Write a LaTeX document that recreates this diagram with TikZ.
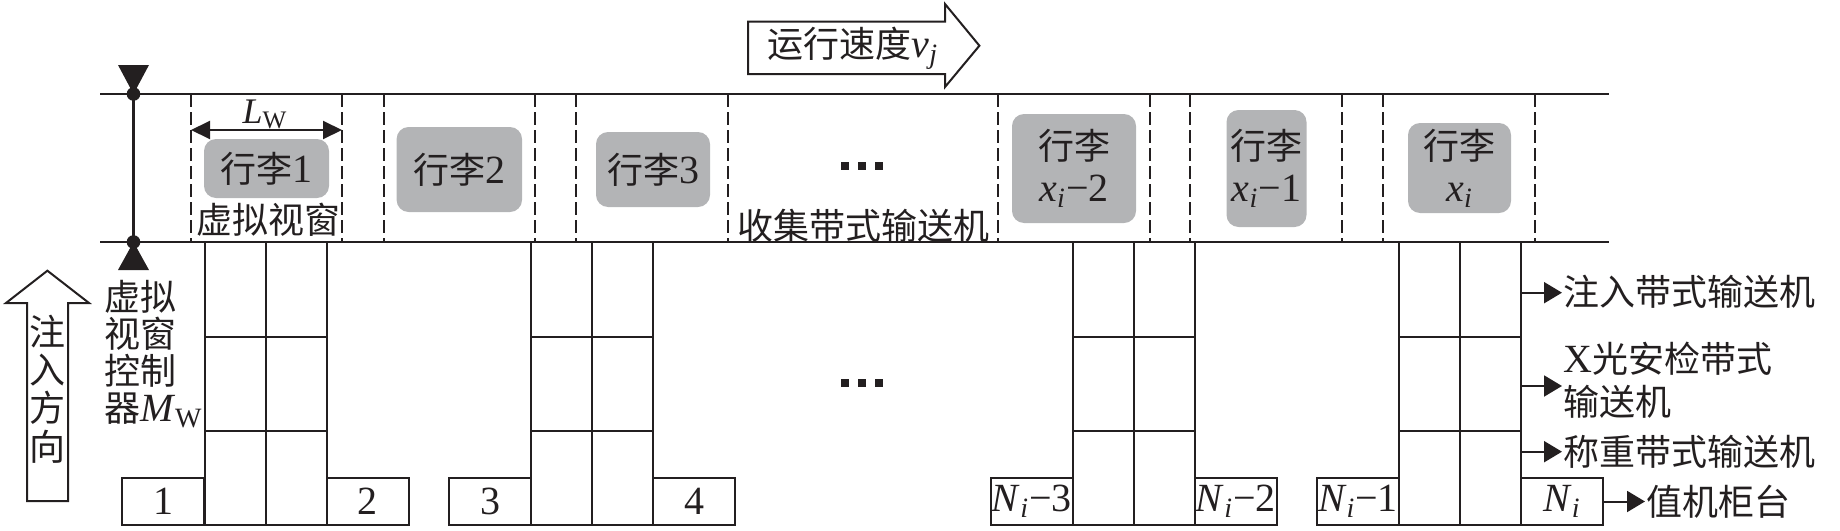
\documentclass[tikz,border=0pt]{standalone}
\usepackage{fontspec}
\setmainfont{Liberation Serif}
\newfontfamily\zhfont{Noto Sans CJK SC}[Scale=0.9]
\usetikzlibrary{arrows.meta}

\definecolor{baggray}{HTML}{B3B4B6}
\definecolor{ink}{HTML}{231F20}
\newcommand{\zh}[1]{{\zhfont #1}}

\begin{document}
\begin{tikzpicture}[x=0.5pt, y=-0.5pt, ink,
  font=\fontsize{20}{21}\selectfont,
  belt/.style={line width=1.2pt},
  window/.style={line width=1pt, dash pattern=on 6.5pt off 2.5pt},
  cell/.style={line width=1pt},
  bag/.style={fill=baggray, rounded corners=6pt, align=center, inner sep=0pt},
  numbox/.style={draw, line width=1pt, minimum width=41pt, minimum height=23.5pt, inner sep=0pt},
  feed/.style={line width=1pt, -{Triangle[length=9pt,width=10.5pt]}},
  side/.style={anchor=west, inner sep=0.5pt}]

\useasboundingbox (0,0) rectangle (1840,530);

% belt and virtual windows
\draw[belt] (100,94) -- (1609,94) (100,242) -- (1609,242);
\foreach \x in {191,342,383.5,535,576,728,998,1150,1190,1342,1383,1535}
  \draw[window] (\x,94) -- (\x,242);

% controller
\coordinate (ctop) at (133.5,94);
\coordinate (cbot) at (133.5,242);
\draw[belt] (ctop) -- (cbot);
\fill (ctop) circle (3.4pt) (cbot) circle (3.4pt);
\fill (118,65) -- (149,65) -- (ctop) -- cycle;
\fill (118,270) -- (149,270) -- (cbot) -- cycle;

\draw
(266.5,168.5) node[bag, minimum width=62.5pt, minimum height=29.5pt] (bag1) {\zh{行李}1}
(459.3,169.5) node[bag, minimum width=62.7pt, minimum height=42.5pt] (bag2) {\zh{行李}2}
(653,169.5) node[bag, minimum width=57pt, minimum height=37.5pt] (bag3) {\zh{行李}3}
(1074,168.5) node[bag, minimum width=62pt, minimum height=54.5pt] (bag4) {\zh{行李}\\\textit{x}\textsubscript{\textit{i}}−2}
(1266.5,168.5) node[bag, minimum width=40pt, minimum height=58.5pt] (bag5) {\zh{行李}\\\textit{x}\textsubscript{\textit{i}}−1}
(1459.5,168) node[bag, minimum width=51.5pt, minimum height=45pt] (bag6) {\zh{行李}\\\textit{x}\textsubscript{\textit{i}}}
(268,220) node (win) {\zh{虚拟视窗}}
(863,226) node (collect) {\zh{收集带式输送机}}
(265,114) node (lw) {\fontsize{18}{18}\selectfont\textit{L}\textsubscript{W}}
(853,48) node (speed) {\zh{运行速度}\textit{v}\textsubscript{\textit{j}}}
(47.5,389) node[align=center, font=\fontsize{20}{19.2}\selectfont] (dir) {\zh{注}\\\zh{入}\\\zh{方}\\\zh{向}}
(97,354) node[anchor=west, align=left, font=\fontsize{20}{18.5}\selectfont] (ctrl) {\zh{虚拟}\\\zh{视窗}\\\zh{控制}\\\zh{器}\textit{M}\textsubscript{W}};

% window length
\coordinate (lwl) at (191,130);
\coordinate (lwr) at (342,130);
\draw[line width=1pt, {Triangle[length=9.5pt,width=9pt]}-{Triangle[length=9.5pt,width=9pt]}] (lwl) -- (lwr);

% speed and injection arrows
\draw[line width=1pt] (748,21.7) -- (945,21.7) -- (945,4) -- (979.4,45.7) -- (945,87) -- (945,74) -- (748,74) -- cycle;
\draw[line width=1pt] (27,501) -- (27,303) -- (6,303) -- (47.4,270.7) -- (89,303) -- (68,303) -- (68,501) -- cycle;

% ellipses
\foreach \c in {166,383}
  \foreach \d in {-17,0,17}
    \fill (862+\d-4,\c-4) rectangle ++(8,8);

% injection lines
\foreach \g in {204.5,531,1072.7,1399} {
  \draw[cell] (\g,242) rectangle ++(122,283);
  \draw[cell] (\g+61,242) -- (\g+61,525) (\g,337) -- (\g+122,337) (\g,431) -- (\g+122,431);
}

\draw
(163,501.5) node[numbox] (n1) {1}
(367.5,501.5) node[numbox] (n2) {2}
(490,501.5) node[numbox] (n3) {3}
(694,501.5) node[numbox] (n4) {4}
(1031.7,501.5) node[numbox] (n5) {\textit{N}\textsubscript{\textit{i}}−3}
(1235.7,501.5) node[numbox] (n6) {\textit{N}\textsubscript{\textit{i}}−2}
(1358,501.5) node[numbox] (n7) {\textit{N}\textsubscript{\textit{i}}−1}
(1562,501.5) node[numbox] (n8) {\textit{N}\textsubscript{\textit{i}}};

\draw
(1562,292) node[side] (inj) {\zh{注入带式输送机}}
(1562,380) node[side, align=left, font=\fontsize{20}{21.5}\selectfont] (xray) {X\zh{光安检带式}\\\zh{输送机}}
(1562,452) node[side] (weigh) {\zh{称重带式输送机}}
(1645,501.5) node[side] (desk) {\zh{值机柜台}};

\coordinate (p1) at (1521,292.7);
\coordinate (p2) at (1521,386);
\coordinate (p3) at (1521,451.7);
\draw[feed] (p1) -- (p1 -| inj.west);
\draw[feed] (p2) -- (p2 -| inj.west);
\draw[feed] (p3) -- (p3 -| inj.west);
\draw[feed] (n8) -- (desk);
\end{tikzpicture}
\end{document}
